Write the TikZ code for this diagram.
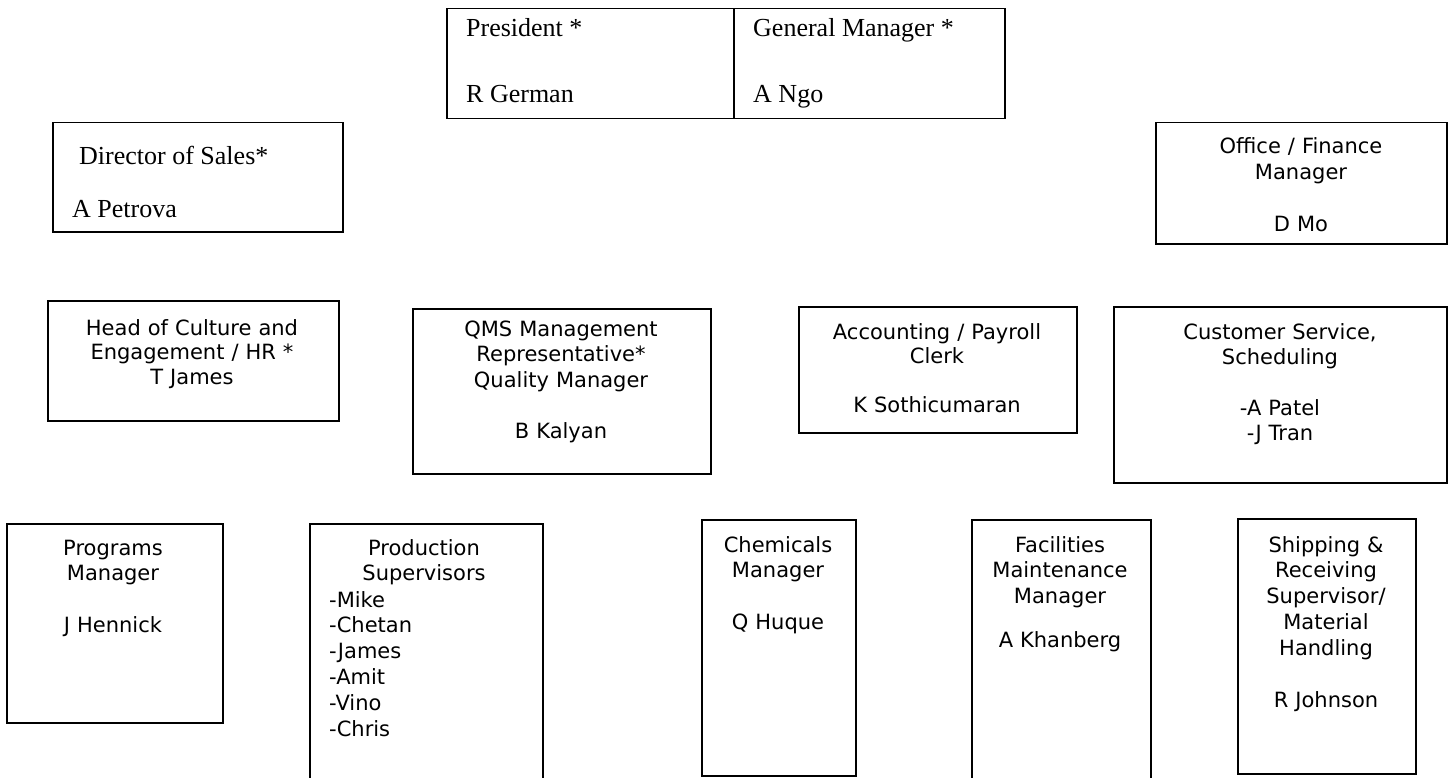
\documentclass[tikz,border=0pt]{standalone}
\usepackage{fontspec}
\setmainfont{Liberation Serif}
\newfontfamily\vsans{DejaVu Sans}
\begin{document}
\begin{tikzpicture}[x=1pt,y=-1pt,
  obox/.style={draw=black, line width=1.5pt, inner sep=0pt, anchor=north west},
  tserif/.style={font=\fontsize{26}{30}\selectfont, inner sep=0pt, anchor=base west},
  tsans/.style={font=\vsans\fontsize{21}{#1}\selectfont, inner sep=0pt, anchor=base, text width=330pt, align=center},
  tsans/.default=25.8,
  tlist/.style={font=\vsans\fontsize{21}{25.8}\selectfont, inner sep=0pt, anchor=base west, text width=200pt, align=left}]
\clip (0,0) rectangle (1448,778);
% boxes
\node[obox, minimum width=287pt, minimum height=110pt] (pres) at (446,8) {};
\node[obox, minimum width=271pt, minimum height=110pt] (gm) at (733,8) {};
\node[obox, minimum width=290pt, minimum height=109pt] (dos) at (52,122) {};
\node[obox, minimum width=291pt, minimum height=121pt] (off) at (1155,122) {};
\node[obox, minimum width=291pt, minimum height=120pt] (hr) at (47,300) {};
\node[obox, minimum width=298pt, minimum height=165pt] (qms) at (412,308) {};
\node[obox, minimum width=278pt, minimum height=126pt] (acc) at (798,306) {};
\node[obox, minimum width=333pt, minimum height=176pt] (cs) at (1113,306) {};
\node[obox, minimum width=216pt, minimum height=199pt] (pm) at (6,523) {};
\node[obox, minimum width=233pt, minimum height=275pt] (ps) at (309,523) {};
\node[obox, minimum width=154pt, minimum height=256pt] (ch) at (701,519) {};
\node[obox, minimum width=179pt, minimum height=275pt] (fm) at (971,519) {};
\node[obox, minimum width=178pt, minimum height=255pt] (sh) at (1237,518) {};
% serif texts
\node[tserif] (pres-a) at (466,37) {President *};
\node[tserif] (pres-b) at (466,103) {R German};
\node[tserif] (gm-a) at (753,37) {General Manager *};
\node[tserif] (gm-b) at (753,103) {A Ngo};
\node[tserif] (dos-a) at (79,165) {Director of Sales*};
\node[tserif] (dos-b) at (72,218) {A Petrova};
% sans texts
\node[tsans=25.5] (off-t) at (1301,154) {Office / Finance\\Manager\\[27pt]D Mo};
\node[tsans=24.5] (hr-t) at (192,335) {Head of Culture and\\Engagement / HR *\\T James};
\node[tsans=25.5] (qms-t) at (561,336) {QMS Management\\Representative*\\Quality Manager\\[26pt]B Kalyan};
\node[tsans=24.5] (acc-t) at (937,339) {Accounting / Payroll\\Clerk\\[24pt]K Sothicumaran};
\node[tsans=25] (cs-t) at (1280,339) {Customer Service,\\Scheduling\\[26pt]-A Patel\\-J Tran};
\node[tsans] (pm-t) at (113,555) {Programs\\Manager\\[26pt]J Hennick};
\node[tsans] (ps-t) at (424,555) {Production\\Supervisors};
\node[tlist] (ps-l) at (329,607) {-Mike\\-Chetan\\-James\\-Amit\\-Vino\\-Chris};
\node[tsans] (ch-t) at (778,552) {Chemicals\\Manager\\[26pt]Q Huque};
\node[tsans] (fm-t) at (1060,552) {Facilities\\Maintenance\\Manager\\[18pt]A Khanberg};
\node[tsans] (sh-t) at (1326,552) {Shipping \&\\Receiving\\Supervisor/\\Material\\Handling\\[26pt]R Johnson};
\end{tikzpicture}
\end{document}
